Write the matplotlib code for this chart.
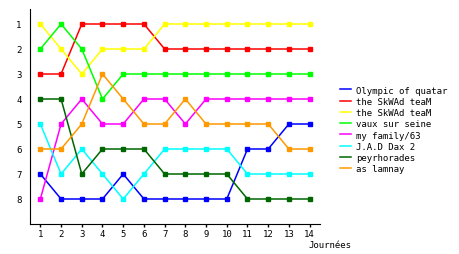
import matplotlib
matplotlib.use('Agg')
import matplotlib.pyplot as plt

journees = list(range(1, 15))

equipes = ['Olympic of quatar', 'the SkWAd teaM', 'the SkWAd teaM', 'vaux sur seine',
           'my family/63', 'J.A.D Dax 2', 'peyrhorades', 'as lamnay']
couleurs = ['#0000ff', '#ff0000', '#ffff00', '#00ff00',
            '#ff00ff', '#00ffff', '#006600', '#ff9900']

olympic = [7, 8, 8, 8, 7, 8, 8, 8, 8, 8, 6, 6, 5, 5]
skwad_rouge = [3, 3, 1, 1, 1, 1, 2, 2, 2, 2, 2, 2, 2, 2]
skwad_jaune = [1, 2, 3, 2, 2, 2, 1, 1, 1, 1, 1, 1, 1, 1]
vaux = [2, 1, 2, 4, 3, 3, 3, 3, 3, 3, 3, 3, 3, 3]
family = [8, 5, 4, 5, 5, 4, 4, 5, 4, 4, 4, 4, 4, 4]
jad = [5, 7, 6, 7, 8, 7, 6, 6, 6, 6, 7, 7, 7, 7]
peyrhorades = [4, 4, 7, 6, 6, 6, 7, 7, 7, 7, 8, 8, 8, 8]
lamnay = [6, 6, 5, 3, 4, 5, 5, 4, 5, 5, 5, 5, 6, 6]

classements = [olympic, skwad_rouge, skwad_jaune, vaux, family, jad, peyrhorades, lamnay]

fig = plt.figure(figsize=(4.6, 2.55), dpi=100)
ax = fig.add_axes([30/460, 1-225/255, 290/460, 215/255])

lignes = []
for nom, coul, vals in zip(equipes, couleurs, classements):
    l, = ax.plot(journees, vals, color=coul, lw=1.1, marker='s', ms=2.5, label=nom)
    lignes.append(l)

ax.set_xlim(0.5, 14.5)
ax.set_ylim(9, 0.4)
ax.set_xticks(journees)
ax.set_yticks(range(1, 9))
ax.spines['top'].set_visible(False)
ax.spines['right'].set_visible(False)
ax.tick_params(labelsize=6.5, length=2, width=1, pad=1.5)
ax.tick_params(axis='y', length=0, pad=6)
for lab in ax.get_xticklabels() + ax.get_yticklabels():
    lab.set_family('DejaVu Sans Mono')
ax.text(13.95, 9.82, 'Journées', fontsize=6.5, family='DejaVu Sans Mono', ha='left', va='center')

fig.legend(handles=lignes, loc='upper left', bbox_to_anchor=(335/460, 1-82/255),
           frameon=False, prop={'family': 'DejaVu Sans Mono', 'size': 6.5},
           handlelength=1.3, handletextpad=0.5, labelspacing=0.25, borderpad=0,
           markerscale=0)

fig.savefig('out.png', dpi=100)
